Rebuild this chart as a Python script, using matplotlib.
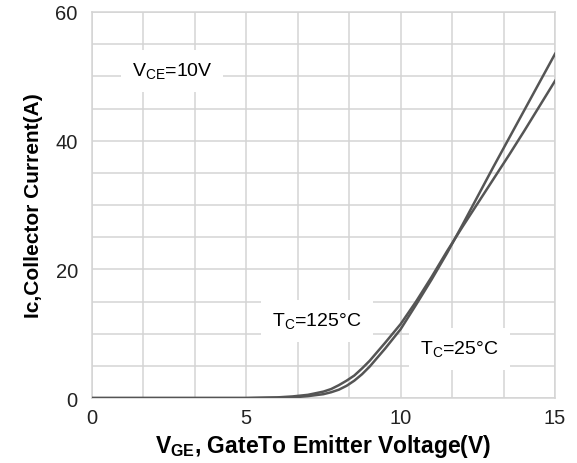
import numpy as np
import matplotlib
matplotlib.use("Agg")
from matplotlib import pyplot as plt

plt.rcParams['font.family'] = ['Liberation Sans', 'DejaVu Sans']
plt.rcParams['mathtext.fontset'] = 'custom'
plt.rcParams['mathtext.rm'] = 'Liberation Sans'
plt.rcParams['mathtext.bf'] = 'Liberation Sans:bold'

# transfer characteristics
vge = [0, 5, 6, 6.5, 7, 7.5, 7.75, 8, 8.25, 8.5, 8.75, 9, 9.5, 10, 10.5, 11, 11.5, 12, 12.5, 13, 13.5, 14, 14.5, 15]
ic_125 = [0, 0, 0.1, 0.25, 0.5, 1.0, 1.4, 2.0, 2.7, 3.5, 4.6, 5.8, 8.6, 11.5, 15.0, 18.8, 22.8, 26.6, 30.3, 34.0, 37.7, 41.5, 45.4, 49.3]
ic_25 = [0, 0, 0.05, 0.1, 0.3, 0.6, 0.9, 1.3, 1.9, 2.7, 3.7, 4.9, 7.7, 10.7, 14.5, 18.4, 22.5, 26.9, 31.4, 35.9, 40.3, 44.7, 49.1, 53.5]

fig = plt.figure(figsize=(5.77, 4.64), dpi=100)
ax = fig.add_axes([0.159, 0.140, 0.803, 0.832])

ax.set_xlim(0, 15)
ax.set_ylim(0, 60)
ax.set_xticks([0, 5, 10, 15])
ax.set_yticks([0, 20, 40, 60])
ax.set_xticks(np.linspace(0, 15, 10), minor=True)
ax.set_yticks(np.arange(0, 61, 5), minor=True)
ax.grid(which='both', color='#d4d4d4', lw=1.1)
ax.set_axisbelow(True)
ax.tick_params(which='both', length=0, labelsize=14.5, colors='#222222')
ax.tick_params(axis='x', pad=7)
ax.tick_params(axis='y', pad=10)
for s in ax.spines.values():
    s.set_color('#d4d4d4')
    s.set_linewidth(1.1)

ax.plot(vge, ic_125, color='#555555', lw=1.8, zorder=3)
ax.plot(vge, ic_25, color='#555555', lw=1.8, zorder=3)

box = dict(facecolor='white', edgecolor='none', pad=8)
ax.text(2.6, 50.8, r'V$_{\mathrm{CE}}$=10V', ha='center', va='center', fontsize=14, bbox=box, zorder=2)
ax.text(7.3, 12, r'T$_{\mathrm{C}}$=125°C', ha='center', va='center', fontsize=14, bbox=box, zorder=2)
ax.text(11.9, 7.6, r'T$_{\mathrm{C}}$=25°C', ha='center', va='center', fontsize=14, bbox=box, zorder=2)

ax.set_xlabel(r'$\mathbf{V_{GE}}$, GateTo Emitter Voltage(V)', fontsize=16.5, fontweight='bold', labelpad=4)
ax.set_ylabel('Ic,Collector Current(A)', fontsize=15, fontweight='bold', labelpad=9)

fig.savefig('out.png', dpi=100)
